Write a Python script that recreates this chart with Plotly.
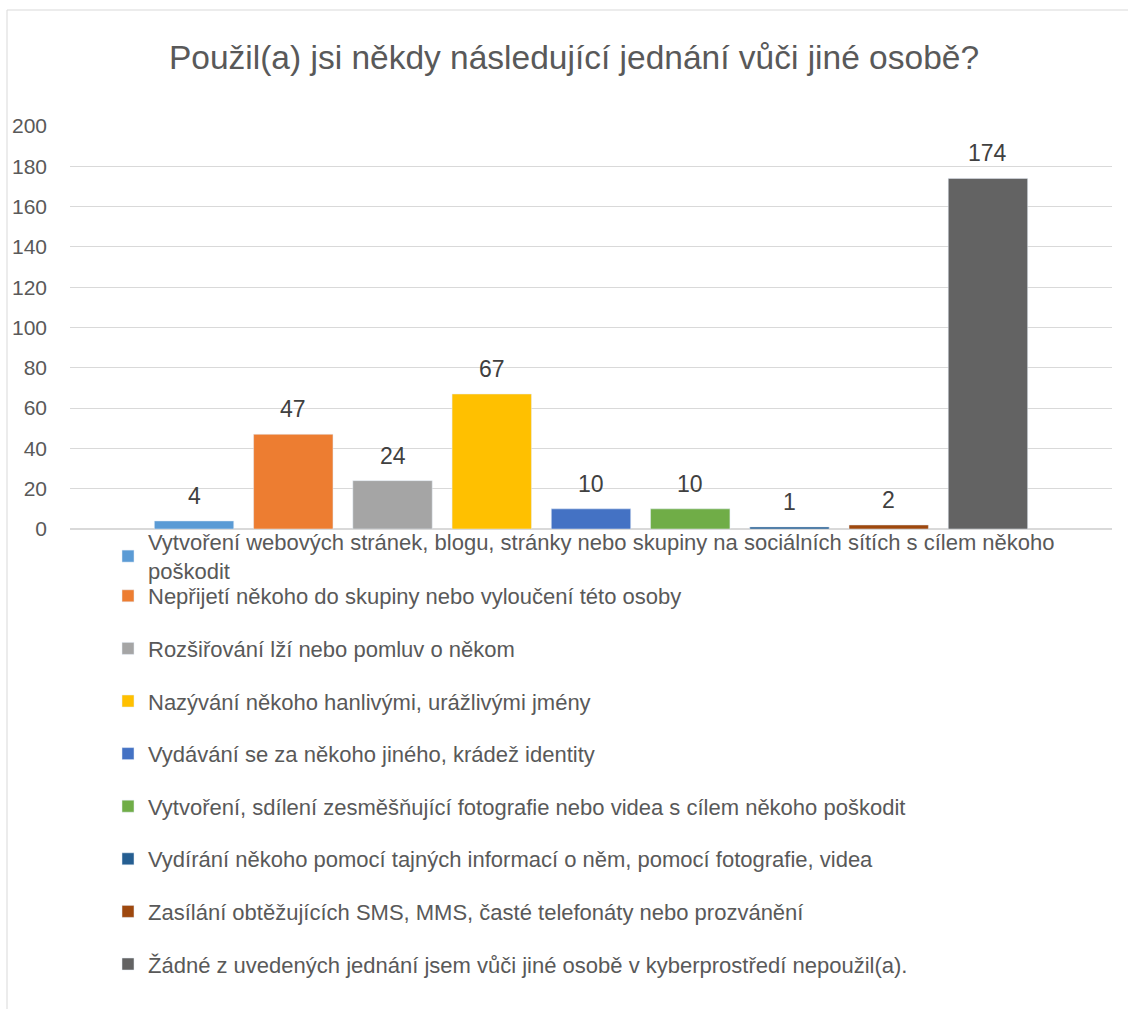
import plotly.graph_objects as go

title = "Použil(a) jsi někdy následující jednání vůči jiné osobě?"
categories = [
    "Vytvoření webových stránek, blogu, stránky nebo skupiny na sociálních sítích s cílem někoho<br>poškodit",
    "Nepřijetí někoho do skupiny nebo vyloučení této osoby",
    "Rozšiřování lží nebo pomluv o někom",
    "Nazývání někoho hanlivými, urážlivými jmény",
    "Vydávání se za někoho jiného, krádež identity",
    "Vytvoření, sdílení zesměšňující fotografie nebo videa s cílem někoho poškodit",
    "Vydírání někoho pomocí tajných informací o něm, pomocí fotografie, videa",
    "Zasílání obtěžujících SMS, MMS, časté telefonáty nebo prozvánění",
    "Žádné z uvedených jednání jsem vůči jiné osobě v kyberprostředí nepoužil(a).",
]
values = [4, 47, 24, 67, 10, 10, 1, 2, 174]
colors = ["#5B9BD5", "#ED7D31", "#A5A5A5", "#FFC000", "#4472C4",
          "#70AD47", "#255E91", "#9E480E", "#636363"]
y_ticks = [0, 20, 40, 60, 80, 100, 120, 140, 160, 180, 200]

FONT = "Liberation Sans, Arial, sans-serif"
fig = go.Figure()
for i, (name, v, c) in enumerate(zip(categories, values, colors)):
    fig.add_trace(go.Bar(
        x=[i], y=[v], name=name, marker_color=c, width=0.8,
        legendgroup=f"g{i}", hoverinfo="y",
        legend="legend" if i == 0 else "legend2",
    ))
    fig.add_annotation(x=i, y=v, text=str(v), showarrow=False, yanchor="bottom",
                       yshift=10, font=dict(size=23, color="#404040", family=FONT))

L, R, T, B = 70, 16, 126, 480
W, H = 1128, 1009
pw = W - L - R
ph = H - T - B

legend_style = dict(orientation="v", x=(108 - L) / pw, xanchor="left", yanchor="top",
                    font=dict(size=22, color="#595959", family=FONT),
                    tracegroupgap=21, bgcolor="rgba(0,0,0,0)", maxheight=1200)

fig.update_layout(
    width=W, height=H,
    margin=dict(l=L, r=R, t=T, b=B, autoexpand=False),
    paper_bgcolor="white", plot_bgcolor="white",
    title=dict(text=title, x=574 / W, xanchor="center", y=1 - 57 / H, yanchor="middle",
               font=dict(size=33.5, color="#595959", family=FONT)),
    showlegend=True,
    legend=dict(legend_style, y=-(521 - (H - B)) / ph),
    legend2=dict(legend_style, y=-(575 - (H - B)) / ph),
    xaxis=dict(range=[-1.25, 9.25], showticklabels=False, showgrid=False,
               zeroline=False, showline=False, ticks=""),
    yaxis=dict(range=[0, 200], tickvals=y_ticks, showgrid=True, gridcolor="#D9D9D9",
               gridwidth=1, zeroline=True, zerolinecolor="#D9D9D9", showline=False,
               ticks="", ticklabelstandoff=22,
               tickfont=dict(size=21, color="#595959", family=FONT)),
    barmode="overlay",
    shapes=[dict(type="rect", xref="paper", yref="paper",
                 x0=(7 - L) / pw, x1=(1140 - L) / pw,
                 y0=-(1030 - (H - B)) / ph, y1=((H - B) - 10) / ph,
                 line=dict(color="#D9D9D9", width=1), fillcolor="rgba(0,0,0,0)", layer="below")],
)

fig.write_html("out.html", config={"displayModeBar": False},
               post_script="document.body.style.margin='0';document.body.style.overflow='hidden';")
